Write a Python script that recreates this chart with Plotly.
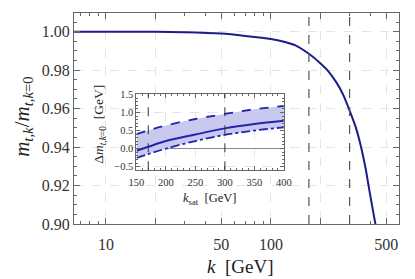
import numpy as np
import plotly.graph_objects as go

# ---------------- data ----------------
# main curve: m_{t,k}/m_{t,k=0} vs k [GeV]
k_vals = [6, 10, 20, 30, 50, 70, 100, 120, 140, 170, 200, 220, 250, 275,
          300, 325, 350, 375, 400, 430, 445]
m_ratio = [1.0000, 1.0000, 0.9999, 0.9997, 0.9990, 0.9978, 0.9962, 0.9948,
           0.9930, 0.9885, 0.9835, 0.9800, 0.9735, 0.9670, 0.9590, 0.9510,
           0.9410, 0.9290, 0.9150, 0.9000, 0.8920]

# saturation scales (vertical dashed lines)
k_sat_lines = [170, 300]

# inset: Delta m_{t,k=0} vs k_sat
k_sat = [150, 170, 200, 250, 300, 350, 400]
dm_central = [-0.06, 0.05, 0.21, 0.39, 0.56, 0.68, 0.77]
dm_upper = [0.40, 0.50, 0.64, 0.82, 0.96, 1.09, 1.18]
dm_lower = [-0.26, -0.15, 0.00, 0.21, 0.38, 0.50, 0.59]

main_xticks = [10, 20, 50, 100, 200, 500]
main_xticktext = ["10", "", "50", "100", "", "500"]
main_xminor = [6, 7, 8, 9, 30, 40, 60, 70, 80, 90, 300, 400]
main_yticks = [0.90, 0.92, 0.94, 0.96, 0.98, 1.00]
inset_xticks = [150, 200, 250, 300, 350, 400]
inset_yticks = [-0.5, 0.0, 0.5, 1.0, 1.5]

# ---------------- styling ----------------
FONT = "Liberation Serif"
NAVY = "#1c1c88"
INSET_BLUE = "#2323b0"
BAND = "#c9c9f0"
FRAME = "#666666"
GRID = "#e4e4e4"

fig = go.Figure()

fig.add_trace(go.Scatter(x=k_vals, y=m_ratio, mode="lines",
                         line=dict(color=NAVY, width=2, shape="spline", smoothing=0.6),
                         xaxis="x", yaxis="y", showlegend=False, hoverinfo="skip"))

# inset band
fig.add_trace(go.Scatter(x=k_sat, y=dm_lower, mode="lines",
                         line=dict(color=INSET_BLUE, width=1.8, dash="dashdot", shape="spline"),
                         xaxis="x2", yaxis="y2", showlegend=False, hoverinfo="skip"))
fig.add_trace(go.Scatter(x=k_sat, y=dm_upper, mode="lines", fill="tonexty", fillcolor=BAND,
                         line=dict(color=INSET_BLUE, width=1.8, dash="dash", shape="spline"),
                         xaxis="x2", yaxis="y2", showlegend=False, hoverinfo="skip"))
fig.add_trace(go.Scatter(x=k_sat, y=dm_central, mode="lines",
                         line=dict(color=INSET_BLUE, width=2, shape="spline"),
                         xaxis="x2", yaxis="y2", showlegend=False, hoverinfo="skip"))

shapes = []
for ks in k_sat_lines:
    shapes.append(dict(type="line", xref="x", yref="y domain", x0=ks, x1=ks, y0=0, y1=1,
                       line=dict(color="#555555", width=1.2, dash="dash"), layer="above"))
    shapes.append(dict(type="line", xref="x2", yref="y2 domain", x0=ks, x1=ks, y0=0, y1=1,
                       line=dict(color="#333333", width=1, dash="dash"), layer="above"))

L, R, T, B = 74, 8, 8, 55
W, H = 415, 279
pw, ph = W - L - R, H - T - B


def px_x(x):
    return (x - L) / pw


def px_y(y):
    return (H - B - y) / ph


annotations = [
    dict(text="<i>k</i>  [GeV]", x=px_x(244), y=px_y(267), xref="paper", yref="paper",
         showarrow=False, font=dict(family=FONT, size=19, color="#222"),
         xanchor="center", yanchor="middle"),
    dict(text="<i>m</i><sub><i>t,k</i></sub>/<i>m</i><sub><i>t,k</i>=0</sub>",
         x=px_x(21), y=px_y(114), xref="paper", yref="paper", textangle=-90,
         showarrow=False, font=dict(family=FONT, size=21, color="#222"),
         xanchor="center", yanchor="middle"),
    dict(text="<i>k</i><sub>sat</sub>  [GeV]", x=px_x(213), y=px_y(198), xref="paper",
         yref="paper", showarrow=False, font=dict(family=FONT, size=12.5, color="#222"),
         xanchor="center", yanchor="middle"),
    dict(text="Δ<i>m</i><sub><i>t,k</i>=0</sub>  [GeV]", x=px_x(100), y=px_y(122),
         xref="paper", yref="paper", textangle=-90, showarrow=False,
         font=dict(family=FONT, size=13.5, color="#222"),
         xanchor="center", yanchor="middle"),
]

ix0, ix1 = px_x(138), px_x(289)
iy0, iy1 = px_y(169), px_y(91)

fig.update_layout(
    width=W, height=H,
    margin=dict(l=L, r=R, t=T, b=B),
    paper_bgcolor="white", plot_bgcolor="white",
    font=dict(family=FONT, size=16, color="#333"),
    shapes=shapes, annotations=annotations,
    xaxis=dict(type="log", range=[np.log10(6.4), np.log10(598)], domain=[0, 1],
               tickmode="array", tickvals=main_xticks, ticktext=main_xticktext,
               ticks="inside", ticklen=6, tickcolor=FRAME, tickwidth=1,
               showline=True, linecolor=FRAME, linewidth=1, mirror="ticks",
               showgrid=True, gridcolor=GRID, griddash="dash", gridwidth=1,
               zeroline=False, ticklabelstandoff=6,
               tickfont=dict(family=FONT, size=16, color="#333"),
               minor=dict(tickmode="array", tickvals=main_xminor, ticks="inside",
                          ticklen=3, tickcolor=FRAME, showgrid=False)),
    yaxis=dict(range=[0.9, 1.0097], domain=[0, 1],
               tickmode="array", tickvals=main_yticks, tickformat=".2f",
               ticks="inside", ticklen=6, tickcolor=FRAME, tickwidth=1,
               showline=True, linecolor=FRAME, linewidth=1, mirror="ticks",
               showgrid=True, gridcolor=GRID, griddash="dash", gridwidth=1,
               zeroline=False,
               tickfont=dict(family=FONT, size=16, color="#333"),
               minor=dict(dtick=0.005, ticks="inside", ticklen=3, tickcolor=FRAME,
                          showgrid=False)),
    xaxis2=dict(range=[150, 400], domain=[ix0, ix1], anchor="y2",
                tickmode="array", tickvals=inset_xticks,
                ticks="inside", ticklen=4, tickcolor=FRAME,
                showline=True, linecolor=FRAME, linewidth=1, mirror="ticks",
                showgrid=True, gridcolor=GRID, griddash="dash",
                zeroline=False, ticklabelstandoff=2,
                tickfont=dict(family=FONT, size=10.5, color="#333"),
                minor=dict(dtick=10, ticks="inside", ticklen=2, tickcolor=FRAME,
                           showgrid=False)),
    yaxis2=dict(range=[-0.6, 1.51], domain=[iy0, iy1], anchor="x2",
                tickmode="array", tickvals=inset_yticks, tickformat=".1f",
                ticks="inside", ticklen=4, tickcolor=FRAME,
                showline=True, linecolor=FRAME, linewidth=1, mirror="ticks",
                showgrid=True, gridcolor=GRID, griddash="dash",
                zeroline=True, zerolinecolor="#8a8a8a", zerolinewidth=1,
                tickfont=dict(family=FONT, size=10.5, color="#333"),
                minor=dict(dtick=0.1, ticks="inside", ticklen=2, tickcolor=FRAME,
                           showgrid=False)),
)

fig.write_html("out.html", config={"displayModeBar": False},
               post_script="document.body.style.margin='0';")
